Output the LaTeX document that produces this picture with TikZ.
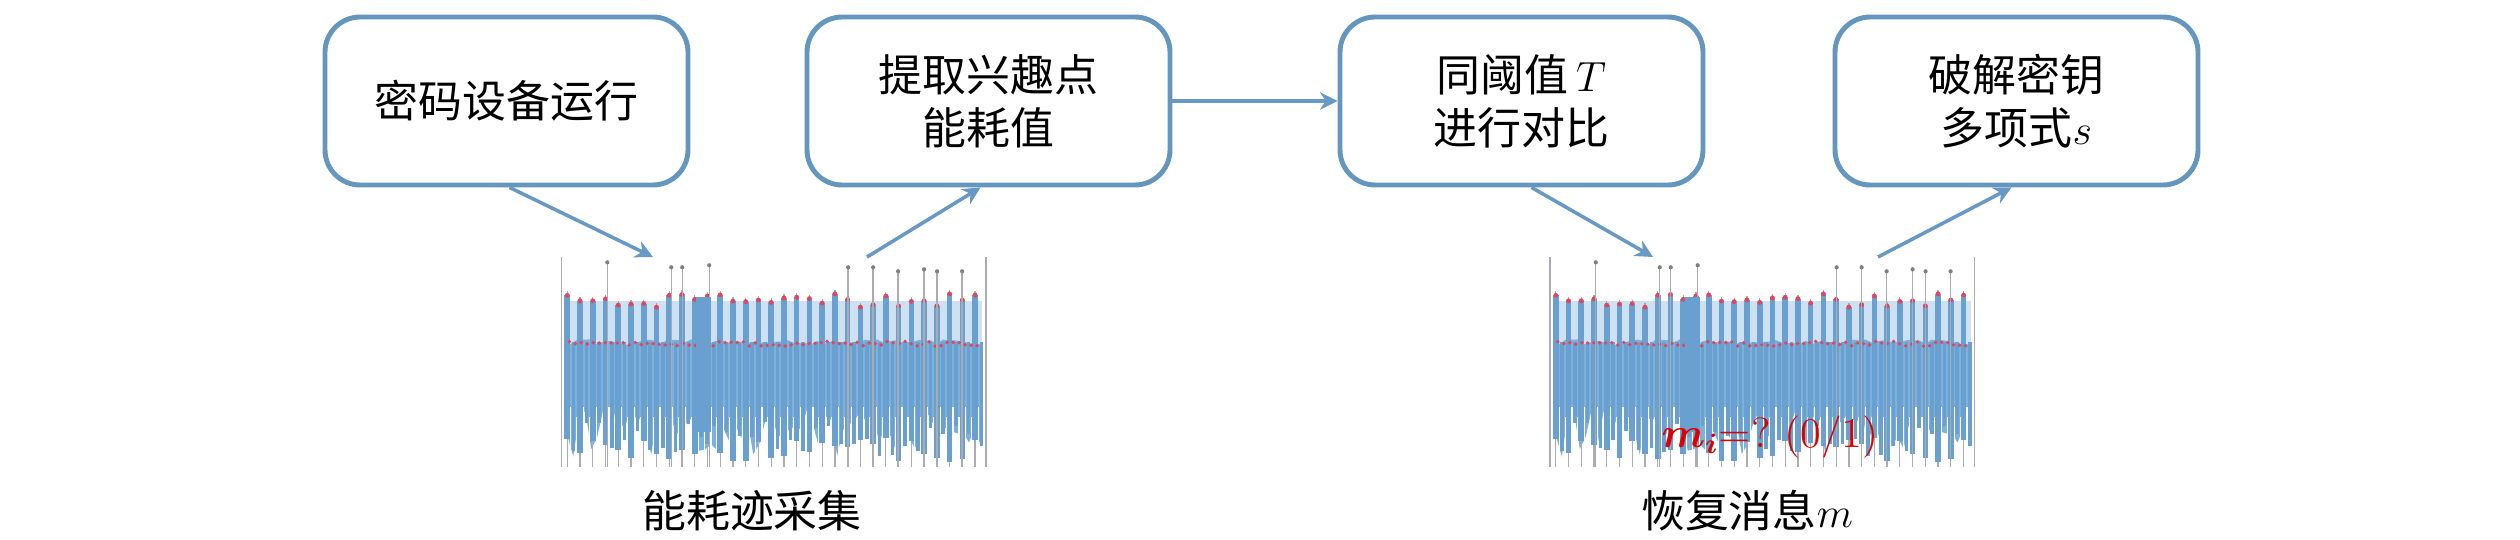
\documentclass[tikz,border=0pt]{standalone}
\usepackage{fontspec}
\usepackage{amsmath}
\newfontfamily\cjk{Noto Sans CJK SC}
\usetikzlibrary{arrows.meta}
\definecolor{boxblue}{RGB}{100,150,190}
\definecolor{arrblue}{RGB}{104,152,196}
\definecolor{trfillc}{RGB}{125,176,218}
\definecolor{trbluec}{RGB}{105,160,208}
\definecolor{trpalec}{RGB}{205,225,242}
\definecolor{trredc}{RGB}{225,70,95}
\definecolor{trgrayc}{RGB}{170,172,178}
\definecolor{lblred}{RGB}{220,0,0}

\newcommand{\ptrace}{%
  \pgfmathsetseed{12345}%
  \fill[trpalec] (4,44) rectangle (421,92);
  \draw[trgrayc, line width=0.4pt] (0,0) -- (0,210);
  \draw[trgrayc, line width=0.4pt] (425,0) -- (425,210);
  \fill[trfillc] (4,90) \foreach \x in {10,16,...,418}{ -- (\x,{82+6*rnd}) } -- (420,85) -- (420,190)
     \foreach \x in {414,408,...,4}{ -- (\x,{150+50*rnd}) } -- cycle;
  \foreach \k in {0,...,32}{
    \pgfmathsetmacro\xx{6+\k*12.75}
    \pgfmathsetmacro\yt{36+14*rnd}
    \pgfmathsetmacro\yb{180+25*rnd}
    \pgfmathsetmacro\yc{165+35*rnd}
    \draw[trbluec, line width=1pt] (\xx+6.4,85) -- (\xx+6.4,\yc);
    \draw[white, line width=0.35pt] (\xx+3.5,150) -- (\xx+3.5,210);
    \draw[white, line width=0.35pt] (\xx+9.5,160) -- (\xx+9.5,210);
    \draw[trgrayc, line width=0.35pt] (\xx,\yt-4) -- (\xx,210);
    \draw[trbluec, line width=1.6pt] (\xx,\yt) -- (\xx,\yb);
    \fill[trredc] (\xx,\yt) circle[radius=0.7pt];
  }
  \foreach \x in {8,14,...,418}{ \fill[trredc] (\x,{84+5*rnd}) circle[radius=0.55pt]; }
  \foreach \x/\y in {46/5,110/10,121/10,148/8,287/10,312/10,337/14,363/12,376/14,401/14}{
    \draw[trgrayc, line width=0.4pt] (\x,\y) -- (\x,210);
    \fill[gray] (\x,\y) circle[radius=0.6pt];
  }
  \fill[trbluec] (135,40) rectangle (150,175);
}

\begin{document}
\begin{tikzpicture}[
  procbox/.style={draw=boxblue, line width=1.4pt, rounded corners=10pt, minimum width=3.63cm,
    minimum height=1.68cm, align=center, font=\fontsize{12.5}{15}\selectfont, inner sep=0pt},
  flow/.style={draw=arrblue, line width=1pt, -{Stealth[length=5pt,width=5pt]}},
  caption/.style={font=\fontsize{12.5}{15}\selectfont, inner sep=0pt},
  tracebox/.style={minimum width=4.25cm, minimum height=2.10cm, inner sep=0pt},
]
\useasboundingbox (0,0) rectangle (25.2,5.39);
\node[procbox] (b1) at (5.065,4.38) {{\cjk 密码设备运行}};
\node[procbox] (b2) at (9.885,4.38) {{\cjk 提取兴趣点}\\{\cjk 能耗值}};
\node[procbox] (b3) at (15.215,4.38) {{\cjk 同阈值}\,$T$\\{\cjk 进行对比}};
\node[procbox] (b4) at (20.165,4.38) {{\cjk 破解密钥}\\{\cjk 多项式}$s$};

\node[tracebox] (t1) at (7.745,1.76) {};
\begin{scope}[shift={(t1.north west)}, x=0.01cm, y=-0.01cm]
  \ptrace
\end{scope}
\node[tracebox] (t2) at (17.63,1.76) {};
\begin{scope}[shift={(t2.north west)}, x=0.01cm, y=-0.01cm]
  \ptrace
\end{scope}

\coordinate (t1in) at (6.53,2.82);
\coordinate (t1out) at (8.67,2.82);
\coordinate (t2in) at (16.53,2.82);
\coordinate (t2out) at (18.78,2.82);

\draw[flow] ([xshift=0.03cm]b1.south) -- (t1in);
\draw[flow] (t1out) -- ([xshift=-0.08cm]b2.south);
\draw[flow] (b2.east) -- (b3.west);
\draw[flow] ([xshift=0.1cm]b3.south) -- (t2in);
\draw[flow] (t2out) -- ([xshift=-0.05cm]b4.south);

\node[caption] (c1) at (7.52,0.28) {{\cjk 能耗迹采集}};
\node[caption] (c2) at (17.47,0.28) {{\cjk 恢复消息}$m$};
\node[caption, text=lblred, font=\fontsize{12}{14}\selectfont] (mi) at (17.70,1.02) {$\boldsymbol{m_i}$=?\ (0/1)};
\end{tikzpicture}
\end{document}
